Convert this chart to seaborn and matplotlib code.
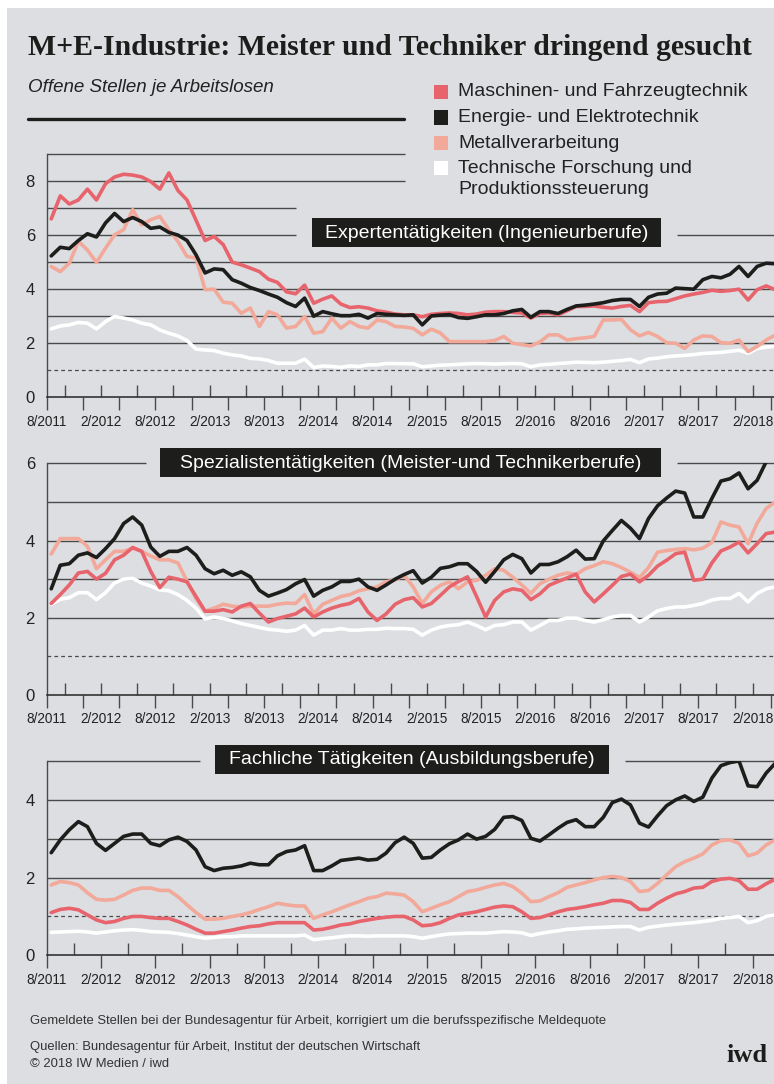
import numpy as np
import pandas as pd
import seaborn as sns
import matplotlib.pyplot as plt
from matplotlib.patches import Rectangle
from matplotlib.lines import Line2D
from matplotlib.ticker import FixedLocator

sns.set_style("white")
plt.rcParams["font.family"] = ["Liberation Sans", "DejaVu Sans"]

SERIF = ["Liberation Serif", "DejaVu Serif"]

# Offene Stellen je Arbeitslosen, monatlich 8/2011 - 4/2018
monate = pd.period_range("2011-08", "2018-04", freq="M")
x_labels = ["8/2011", "2/2012", "8/2012", "2/2013", "8/2013", "2/2014", "8/2014",
            "2/2015", "8/2015", "2/2016", "8/2016", "2/2017", "8/2017", "2/2018"]

reihen = ["Maschinen- und Fahrzeugtechnik", "Energie- und Elektrotechnik",
          "Metallverarbeitung", "Technische Forschung und Produktionssteuerung"]
farben = ["#e8646d", "#1d1d1b", "#f2a99a", "#ffffff"]

# Expertentätigkeiten
exp_masch = [6.6, 7.45, 7.15, 7.3, 7.7, 7.3, 7.9, 8.15, 8.25, 8.22,
             8.15, 7.98, 7.7, 8.3, 7.65, 7.3, 6.55, 5.8, 5.95, 5.65,
             5.0, 4.9, 4.78, 4.65, 4.37, 4.25, 3.9, 3.83, 4.15, 3.48,
             3.63, 3.75, 3.45, 3.32, 3.35, 3.3, 3.2, 3.15, 3.08, 3.05,
             3.05, 2.98, 3.07, 3.1, 3.12, 3.1, 3.05, 3.08, 3.15, 3.17,
             3.17, 3.14, 3.12, 2.93, 3.1, 3.12, 3.05, 3.2, 3.36, 3.36,
             3.38, 3.33, 3.3, 3.36, 3.4, 3.17, 3.5, 3.54, 3.55, 3.65,
             3.75, 3.82, 3.88, 3.96, 3.92, 3.95, 4.0, 3.6, 3.98, 4.12,
             3.98]
exp_energie = [5.23, 5.55, 5.5, 5.8, 6.05, 5.93, 6.45, 6.8, 6.5, 6.65,
               6.5, 6.25, 6.3, 6.1, 6.0, 5.8, 5.27, 4.6, 4.75, 4.72,
               4.35, 4.22, 4.06, 3.95, 3.82, 3.7, 3.5, 3.36, 3.67, 3.0,
               3.17, 3.09, 3.02, 3.02, 3.07, 2.93, 3.1, 3.07, 3.05, 3.03,
               3.05, 2.68, 3.01, 3.04, 3.06, 2.95, 2.92, 2.98, 3.05, 3.05,
               3.1, 3.2, 3.25, 2.96, 3.17, 3.17, 3.1, 3.25, 3.38, 3.41,
               3.45, 3.5, 3.58, 3.62, 3.62, 3.36, 3.7, 3.82, 3.85, 4.04,
               4.02, 4.0, 4.35, 4.47, 4.42, 4.55, 4.84, 4.47, 4.84, 4.96,
               4.94]
exp_metall = [4.84, 4.65, 4.96, 5.77, 5.45, 4.99, 5.52, 6.01, 6.2, 6.94,
              6.38, 6.57, 6.69, 6.2, 5.77, 5.21, 5.15, 3.98, 4.0, 3.52,
              3.48, 3.11, 3.3, 2.62, 3.17, 3.05, 2.56, 2.62, 2.99, 2.37,
              2.43, 2.93, 2.56, 2.8, 2.62, 2.56, 2.86, 2.8, 2.62, 2.6,
              2.55, 2.31, 2.52, 2.38, 2.06, 2.06, 2.06, 2.06, 2.06, 2.1,
              2.25, 2.0, 1.95, 1.9, 2.05, 2.31, 2.31, 2.12, 2.17, 2.2,
              2.25, 2.86, 2.86, 2.88, 2.5, 2.27, 2.4, 2.25, 2.02, 2.0,
              1.81, 2.12, 2.27, 2.25, 2.02, 2.0, 2.12, 1.69, 1.88, 2.12,
              2.3]
exp_tech = [2.53, 2.64, 2.68, 2.77, 2.74, 2.53, 2.8, 2.99, 2.93, 2.86,
            2.74, 2.68, 2.49, 2.37, 2.27, 2.1, 1.78, 1.75, 1.73, 1.63,
            1.57, 1.53, 1.44, 1.42, 1.36, 1.26, 1.26, 1.26, 1.41, 1.1,
            1.16, 1.14, 1.11, 1.16, 1.14, 1.2, 1.2, 1.25, 1.25, 1.24,
            1.24, 1.13, 1.16, 1.19, 1.2, 1.22, 1.24, 1.25, 1.24, 1.23,
            1.24, 1.25, 1.24, 1.13, 1.2, 1.22, 1.25, 1.27, 1.3, 1.29,
            1.28, 1.3, 1.33, 1.36, 1.4, 1.28, 1.42, 1.45, 1.5, 1.53,
            1.55, 1.58, 1.62, 1.64, 1.66, 1.7, 1.74, 1.63, 1.8, 1.86,
            1.88]

# Spezialistentätigkeiten
spez_masch = [2.37, 2.6, 2.85, 3.16, 3.2, 3.0, 3.15, 3.5, 3.62, 3.82,
              3.72, 3.2, 2.78, 3.05, 3.0, 2.93, 2.55, 2.17, 2.17, 2.21,
              2.15, 2.3, 2.37, 2.12, 1.89, 1.98, 2.04, 2.1, 2.25, 2.02,
              2.15, 2.25, 2.32, 2.37, 2.5, 2.15, 1.93, 2.1, 2.35, 2.47,
              2.52, 2.28, 2.37, 2.58, 2.8, 2.94, 3.06, 2.55, 2.02, 2.45,
              2.67, 2.75, 2.71, 2.47, 2.62, 2.84, 2.94, 3.03, 3.13, 2.67,
              2.41, 2.62, 2.84, 3.07, 3.13, 2.93, 3.1, 3.34, 3.49, 3.66,
              3.7, 2.97, 3.0, 3.42, 3.73, 3.83, 3.96, 3.68, 3.92, 4.18,
              4.22]
spez_energie = [2.75, 3.36, 3.4, 3.62, 3.68, 3.56, 3.79, 4.05, 4.44, 4.61,
                4.4, 3.83, 3.59, 3.72, 3.72, 3.82, 3.62, 3.27, 3.14, 3.23,
                3.1, 3.19, 3.06, 2.71, 2.56, 2.64, 2.73, 2.88, 2.99, 2.56,
                2.71, 2.8, 2.94, 2.94, 3.0, 2.8, 2.71, 2.85, 3.0, 3.12,
                3.22, 2.9, 3.05, 3.28, 3.32, 3.4, 3.4, 3.2, 2.92, 3.2,
                3.5, 3.64, 3.53, 3.16, 3.38, 3.38, 3.45, 3.58, 3.75, 3.52,
                3.53, 3.99, 4.26, 4.52, 4.32, 4.05, 4.57, 4.9, 5.1, 5.28,
                5.23, 4.61, 4.61, 5.09, 5.54, 5.6, 5.75, 5.34, 5.56, 6.04,
                6.2]
spez_metall = [3.65, 4.05, 4.05, 4.05, 3.85, 3.27, 3.5, 3.72, 3.72, 3.8,
               3.72, 3.6, 3.5, 3.5, 3.42, 2.95, 2.5, 2.17, 2.25, 2.35,
               2.3, 2.28, 2.3, 2.3, 2.3, 2.35, 2.38, 2.37, 2.6, 2.1,
               2.35, 2.45, 2.55, 2.6, 2.7, 2.75, 2.8, 2.93, 2.98, 3.1,
               2.8, 2.37, 2.67, 2.84, 2.93, 2.75, 2.93, 2.97, 3.1, 3.27,
               3.23, 3.05, 2.85, 2.63, 2.88, 3.0, 3.1, 3.16, 3.12, 3.27,
               3.35, 3.45, 3.4, 3.3, 3.18, 3.04, 3.3, 3.7, 3.74, 3.77,
               3.79, 3.76, 3.8, 3.95, 4.48, 4.4, 4.35, 3.92, 4.45, 4.83,
               5.0]
spez_tech = [2.35, 2.48, 2.52, 2.65, 2.65, 2.47, 2.65, 2.9, 3.0, 3.02,
             2.9, 2.82, 2.72, 2.7, 2.6, 2.45, 2.25, 1.97, 2.02, 1.98,
             1.92, 1.85, 1.8, 1.75, 1.7, 1.68, 1.65, 1.68, 1.8, 1.55,
             1.68, 1.68, 1.72, 1.68, 1.68, 1.7, 1.7, 1.73, 1.72, 1.72,
             1.7, 1.55, 1.68, 1.76, 1.8, 1.82, 1.89, 1.8, 1.69, 1.8,
             1.82, 1.89, 1.89, 1.68, 1.8, 1.93, 1.93, 1.99, 1.99, 1.93,
             1.89, 1.95, 2.02, 2.06, 2.06, 1.89, 2.02, 2.18, 2.24, 2.28,
             2.28, 2.32, 2.37, 2.46, 2.5, 2.5, 2.63, 2.41, 2.63, 2.75,
             2.8]

# Fachliche Tätigkeiten
fach_masch = [1.1, 1.18, 1.21, 1.17, 1.04, 0.91, 0.84, 0.87, 0.95, 1.0,
              1.0, 0.97, 0.95, 0.95, 0.87, 0.78, 0.67, 0.57, 0.57, 0.61,
              0.65, 0.7, 0.74, 0.76, 0.81, 0.84, 0.84, 0.84, 0.84, 0.65,
              0.67, 0.72, 0.78, 0.81, 0.87, 0.91, 0.95, 0.98, 1.0, 1.0,
              0.91, 0.76, 0.78, 0.84, 0.95, 1.04, 1.08, 1.12, 1.18, 1.24,
              1.27, 1.25, 1.12, 0.95, 0.97, 1.04, 1.12, 1.18, 1.21, 1.25,
              1.3, 1.34, 1.41, 1.41, 1.36, 1.18, 1.18, 1.34, 1.47, 1.58,
              1.64, 1.73, 1.75, 1.9, 1.96, 1.98, 1.92, 1.7, 1.7, 1.84,
              1.96]
fach_energie = [2.64, 2.97, 3.23, 3.44, 3.31, 2.88, 2.7, 2.88, 3.06, 3.12,
                3.12, 2.88, 2.82, 2.97, 3.04, 2.93, 2.71, 2.28, 2.18, 2.24,
                2.26, 2.3, 2.37, 2.33, 2.33, 2.56, 2.67, 2.71, 2.82, 2.18,
                2.18, 2.3, 2.44, 2.47, 2.5, 2.45, 2.47, 2.63, 2.9, 3.04,
                2.88, 2.5, 2.52, 2.71, 2.87, 2.97, 3.12, 2.99, 3.06, 3.24,
                3.55, 3.57, 3.47, 3.01, 2.94, 3.1, 3.27, 3.42, 3.49, 3.31,
                3.31, 3.55, 3.93, 4.02, 3.87, 3.4, 3.3, 3.59, 3.85, 4.0,
                4.1, 3.96, 4.07, 4.56, 4.88, 4.96, 5.0, 4.36, 4.34, 4.69,
                4.94]
fach_metall = [1.81, 1.9, 1.87, 1.81, 1.61, 1.44, 1.42, 1.44, 1.55, 1.67,
               1.73, 1.73, 1.67, 1.67, 1.51, 1.3, 1.1, 0.93, 0.93, 0.95,
               1.0, 1.04, 1.1, 1.18, 1.25, 1.34, 1.3, 1.27, 1.27, 0.95,
               1.04, 1.12, 1.21, 1.3, 1.38, 1.47, 1.51, 1.6, 1.58, 1.55,
               1.38, 1.12, 1.21, 1.3, 1.38, 1.51, 1.64, 1.68, 1.75, 1.81,
               1.85, 1.77, 1.6, 1.38, 1.4, 1.51, 1.61, 1.75, 1.81, 1.87,
               1.94, 2.0, 2.03, 2.0, 1.9, 1.64, 1.67, 1.85, 2.07, 2.28,
               2.41, 2.5, 2.61, 2.84, 2.95, 2.97, 2.88, 2.56, 2.63, 2.84,
               2.97]
fach_tech = [0.59, 0.6, 0.61, 0.62, 0.6, 0.57, 0.6, 0.63, 0.65, 0.66,
             0.64, 0.61, 0.6, 0.59, 0.56, 0.52, 0.48, 0.44, 0.46, 0.48,
             0.48, 0.5, 0.5, 0.5, 0.5, 0.5, 0.5, 0.5, 0.52, 0.4,
             0.43, 0.45, 0.48, 0.5, 0.5, 0.49, 0.5, 0.5, 0.5, 0.5,
             0.48, 0.44, 0.48, 0.52, 0.55, 0.56, 0.57, 0.57, 0.57, 0.59,
             0.61, 0.6, 0.58, 0.51, 0.56, 0.6, 0.63, 0.67, 0.68, 0.7,
             0.71, 0.72, 0.73, 0.74, 0.74, 0.65, 0.72, 0.75, 0.78, 0.8,
             0.82, 0.84, 0.87, 0.9, 0.95, 0.97, 1.0, 0.84, 0.89, 1.0,
             1.04]

W, H = 774, 1084
BG = "#dcdee2"
GRID = "#4a4a4a"
DARK = "#1d1d1b"
X0 = 46.7                       # Pixel der y-Achse
PX_MONAT = 9.05
XMAX = (W - X0) / PX_MONAT


def fx(px):
    return px / W


def fy(px):
    return 1 - px / H


def lang(werte):
    # ein langes DataFrame pro Panel, damit seaborn per hue zeichnet
    t = np.arange(len(monate)) + 0.5
    return pd.concat([pd.DataFrame({"t": t, "wert": w, "reihe": r})
                      for r, w in zip(reihen, werte)], ignore_index=True)


fig = plt.figure(figsize=(W / 100, H / 100), dpi=100)
fig.patch.set_facecolor("white")
fig.add_artist(Rectangle((fx(7), 0), 1 - fx(7), fy(8), transform=fig.transFigure,
                         facecolor=BG, edgecolor="none", zorder=-10))

panels = [
    dict(werte=[exp_masch, exp_energie, exp_metall, exp_tech], ymax=9,
         top=154, bottom=397.3, tick=2,
         titel="Expertentätigkeiten (Ingenieurberufe)", box=(312, 218, 661, 247),
         kurz={9: [(0, 39.6)], 8: [(0, 39.6)], 7: [(0, 27.5)],
               6: [(0, 27.5), (69.6, XMAX)]}),
    dict(werte=[spez_masch, spez_energie, spez_metall, spez_tech], ymax=6,
         top=463.3, bottom=695, tick=2,
         titel="Spezialistentätigkeiten (Meister-und Technikerberufe)", box=(160, 448, 661, 477),
         kurz={6: [(0, 11.0), (69.6, XMAX)]}),
    dict(werte=[fach_masch, fach_energie, fach_metall, fach_tech], ymax=5,
         top=761, bottom=955.3, tick=3,
         titel="Fachliche Tätigkeiten (Ausbildungsberufe)", box=(215, 745, 609, 774),
         kurz={5: [(0, 16.9), (63.9, XMAX)]}),
]

# Zeichenreihenfolge: Schwarz oben
hue_order = [reihen[3], reihen[2], reihen[0], reihen[1]]
palette = dict(zip(reihen, farben))

for p in panels:
    ax = fig.add_axes([fx(X0), fy(p["bottom"]), 1 - fx(X0), (p["bottom"] - p["top"]) / H])
    ax.set_facecolor("none")

    # Gitterlinien (teilweise unterbrochen für Legende / Titelbox)
    for y in range(1, p["ymax"] + 1):
        if y == 1:
            ax.axhline(1, color=GRID, lw=0.9, ls=(0, (3, 2.5)), zorder=1)
        elif y in p["kurz"]:
            for a, b in p["kurz"][y]:
                ax.hlines(y, a, b, color=GRID, lw=1.0, zorder=1, clip_on=False)
        else:
            ax.axhline(y, color=GRID, lw=1.0, zorder=1)

    sns.lineplot(data=lang(p["werte"]), x="t", y="wert", hue="reihe",
                 hue_order=hue_order, palette=palette, linewidth=2.6,
                 estimator=None, legend=False, ax=ax, zorder=3)

    ax.set(xlabel="", ylabel="")
    ax.set_xlim(0, XMAX)
    ax.set_ylim(0, p["ymax"])
    ax.spines[["top", "right"]].set_visible(False)
    ax.spines["left"].set_color(GRID)
    ax.spines["left"].set_linewidth(1.0)
    ax.spines["bottom"].set_color("#333333")
    ax.spines["bottom"].set_linewidth(1.2)

    # Striche: abwechselnd nach aussen (major) und nach innen (minor)
    step = p["tick"]
    ax.xaxis.set_major_locator(FixedLocator(range(0, 81, 2 * step)))
    ax.xaxis.set_minor_locator(FixedLocator(range(step, 81, 2 * step)))
    ax.tick_params(axis="x", which="major", direction="out", length=9, width=1,
                   color=GRID, bottom=True, top=False,
                   labelbottom=False, labeltop=False)
    ax.tick_params(axis="x", which="minor", direction="in", length=9, width=1,
                   color=GRID, bottom=True, top=False,
                   labelbottom=False, labeltop=False)

    # Monatsbeschriftung alle 6 Monate, unabhängig von den Strichen
    for pos, lab in zip(range(0, 79, 6), x_labels):
        ax.annotate(lab, xy=(pos, 0), xycoords=("data", "axes fraction"),
                    xytext=(0, -12.5), textcoords="offset points",
                    ha="center", va="top", fontsize=9.8, color="#222222",
                    annotation_clip=False)

    ax.set_yticks(range(0, p["ymax"] + 1, 2))
    ax.tick_params(axis="y", length=0, pad=8.5, labelsize=12, labelcolor="#222222")

    x0, y0, x1, y1 = p["box"]
    fig.add_artist(Rectangle((fx(x0), fy(y1)), (x1 - x0) / W, (y1 - y0) / H,
                             transform=fig.transFigure, facecolor=DARK,
                             edgecolor="none", zorder=5))
    fig.text(fx((x0 + x1) / 2), fy((y0 + y1) / 2 + 0.5), p["titel"], color="white",
             ha="center", va="center", fontsize=14, zorder=6)

# Kopf
fig.text(fx(28), fy(55), "M+E-Industrie: Meister und Techniker dringend gesucht",
         family=SERIF, weight="bold", fontsize=21.4, color=DARK, va="baseline")
fig.text(fx(28), fy(88), "Offene Stellen je Arbeitslosen",
         style="italic", fontsize=13.5, color="#222222", va="center")
fig.add_artist(Line2D([fx(28), fx(404)], [fy(119), fy(119)], transform=fig.transFigure,
                      color=DARK, lw=2.4))

# Legende
leg_y = [92, 117.5, 143, 168.5]
for name, farbe, cy in zip(reihen, farben, leg_y):
    fig.add_artist(Rectangle((fx(434), fy(cy + 7)), 14 / W, 14 / H,
                             transform=fig.transFigure, facecolor=farbe,
                             edgecolor="none"))
leg_text = ["Maschinen- und Fahrzeugtechnik", "Energie- und Elektrotechnik",
            "Metallverarbeitung", "Technische Forschung und"]
for t, cy in zip(leg_text, leg_y):
    fig.text(fx(458), fy(cy), t, fontsize=14, color="#222222", va="center")
fig.text(fx(458), fy(189), "Produktionssteuerung", fontsize=14, color="#222222", va="center")

# Fuss
fig.text(fx(30), fy(1021), "Gemeldete Stellen bei der Bundesagentur für Arbeit, korrigiert um die "
         "berufsspezifische Meldequote", fontsize=9.4, color="#333333", va="center")
fig.text(fx(30), fy(1047), "Quellen: Bundesagentur für Arbeit, Institut der deutschen Wirtschaft",
         fontsize=9.4, color="#333333", va="center")
fig.text(fx(30), fy(1064), "© 2018 IW Medien / iwd", fontsize=9.4,
         color="#333333", va="center")
fig.text(fx(768), fy(1056), "iwd", family=SERIF, weight="bold", fontsize=19,
         color=DARK, ha="right", va="center")

fig.savefig("out.png", dpi=100)
